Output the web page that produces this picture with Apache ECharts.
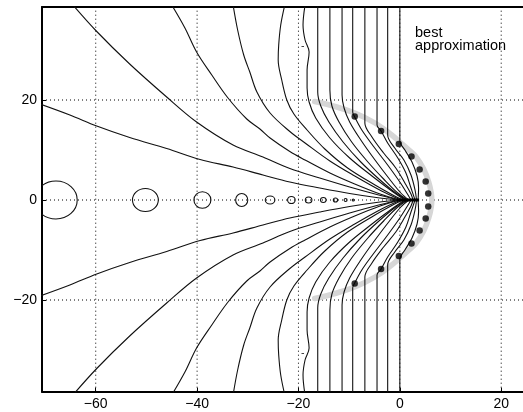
<!DOCTYPE html>
<html>
<head>
<meta charset="utf-8">
<script src="https://cdn.jsdelivr.net/npm/echarts@6/dist/echarts.min.js"></script>
<style>html,body{margin:0;padding:0;background:#fff;}#chart{width:523px;height:412px;}</style>
</head>
<body>
<div id="chart"></div>
<script>
// ---- data ----
const xTicks = [-60, -40, -20, 0, 20];
const yTicks = [-20, 0, 20];
const xRange = [-70.6, 24.3];
const yRange = [-38.34, 38.6];

// upper halves of contour lines (lower half is the mirror image)
const c1 = [[-71,19.2],[-65.1,17.0],[-59.8,14.8],[-53.3,12.5],[-46.0,10.3],[-39.4,8.1],[-32.9,6.6],[-27.0,5.0],[-21.7,3.6],[-15.8,2.4],[-9.9,1.3],[-4.3,0.45],[-0.4,0]];
const c2 = [[-64.5,39],[-59.8,33.7],[-53.3,27.2],[-46.0,20.6],[-40.1,15.6],[-32.9,11.0],[-27.0,8.6],[-21.7,6.3],[-15.8,4.4],[-9.9,2.6],[-4.9,1.2],[-0.2,0]];
const c3 = [[-45.0,39],[-42.4,34.4],[-40.1,29.6],[-37.1,25.0],[-33.9,20.4],[-30.2,16.2],[-27.6,14.2],[-25.6,12.4],[-21.7,9.7],[-18.7,8.0],[-13.8,5.4],[-8.9,3.2],[-3.9,1.2],[0,0]];
const c4 = [[-32.9,39],[-32.0,34.0],[-30.8,29.0],[-29.6,25.6],[-28.2,21.6],[-25.6,17.4],[-21.7,13.7],[-18.7,11.4],[-13.8,7.8],[-8.9,4.8],[-3.6,1.8],[0.2,0]];
const c5 = [[-22.7,39],[-23.5,35.0],[-23.9,31.0],[-24.0,28.0],[-23.3,24.0],[-22.3,20.0],[-20.9,17.2],[-18.3,14.0],[-14.8,10.2],[-10.3,6.4],[-4.9,3.0],[-1.4,1.0],[0.6,0]];
const c6 = [[-18.7,39],[-19.1,35.0],[-18.7,32.0],[-17.9,29.6],[-18.3,26.0],[-18.3,22.4],[-17.9,19.6],[-16.6,16.4],[-13.8,12.4],[-9.9,8.4],[-5.5,4.8],[-1.6,1.8],[1.0,0]];
const c7 = [[-16.2,39],[-16.2,28.0],[-16.2,21.6],[-15.6,18.8],[-14.0,15.6],[-11.2,11.6],[-7.7,7.6],[-3.9,4.0],[-0.8,1.4],[1.4,0]];
const c8 = [[-13.8,39],[-13.8,22.0],[-13.4,18.8],[-12.0,15.6],[-9.5,11.6],[-6.3,7.6],[-3.2,4.2],[-0.4,1.4],[1.6,0]];
const c9 = [[-11.4,39],[-11.4,21.0],[-11.0,18.4],[-9.9,15.6],[-7.7,12.0],[-4.9,8.0],[-2.2,4.4],[0.2,1.4],[1.8,0]];
const c10 = [[-9.3,39],[-9.3,17.6],[-8.9,16.6],[-7.5,14.0],[-5.1,10.6],[-2.4,7.0],[0,3.6],[1.5,1.2],[2.2,0]];
const c11 = [[-6.9,39],[-6.9,15.4],[-5.5,12.6],[-3.2,9.4],[-0.8,6.4],[1.0,3.4],[2.2,1.2],[2.6,0]];
const c12 = [[-4.5,39],[-4.5,15.0],[-3.7,13.8],[-2.4,11.4],[-0.4,8.4],[1.2,5.4],[2.2,2.4],[3.0,0]];
const c13 = [[-2.4,39],[-2.4,13.0],[-1.0,10.4],[0.8,8.0],[2.2,5.0],[3.0,2.0],[3.3,0]];
const c14 = [[0,39],[0,11.8],[1.0,10.0],[2.4,7.6],[3.4,4.8],[3.7,2.4],[3.6,0]];
const contourFragment = [[-19.4,30.7],[-18.9,30.7]];

// small closed contours along the negative real axis: centre x, half-width, half-height
const circleX  = [-67.85, -50.2, -38.95, -31.2, -25.6, -21.4, -18.0, -15.1, -12.7, -10.7, -9.2];
const circleRx = [4.2, 2.55, 1.68, 1.2, 0.95, 0.75, 0.65, 0.55, 0.42, 0.3, 0.2];
const circleRy = [3.8, 2.3, 1.66, 1.3, 0.8, 0.7, 0.6, 0.5, 0.4, 0.3, 0.2];

// poles (upper half)
const polesUpper = [[-8.9,16.7],[-3.7,13.8],[-0.2,11.2],[2.3,8.7],[3.9,6.1],[5.1,3.7],[5.6,1.3]];

// grey asymptotic curve (upper half)
const grayUpper = [[-16.8,19.7],[-12.8,18.7],[-8.9,17.4],[-4.9,15.4],[-1.6,13.0],[0,11.6],[1.8,10.0],[3.2,8.6],[4.7,6.2],[5.7,3.6],[6.2,1.4],[6.3,0]];

// branch segment on the real axis
const branchSeg = [[-0.6,0],[3.8,0]];

// ---- build ----
const mirror = pts => pts.map(p => [p[0], -p[1]]);
const contours = [c1,c2,c3,c4,c5,c6,c7,c8,c9,c10,c11,c12,c13,c14];
const FONT = 'Liberation Sans, Arial, Helvetica, sans-serif';
const fmt = v => String(v).replace('-', '\u2212');

const series = [];
// dotted grid lines
xTicks.forEach(t => series.push({
  type:'line', data:[[t, yRange[0]],[t, yRange[1]]], symbol:'none', silent:true, z:1,
  lineStyle:{color:'#000', width:1, type:[1,3]}
}));
yTicks.forEach(t => series.push({
  type:'line', data:[[xRange[0], t],[xRange[1], t]], symbol:'none', silent:true, z:1,
  lineStyle:{color:'#000', width:1, type:[1,3]}
}));
// grey curve
series.push({
  type:'line', data: mirror(grayUpper).concat(grayUpper.slice().reverse().slice(1)),
  symbol:'none', smooth:0.4, silent:true, z:2,
  lineStyle:{color:'#d6d6d6', width:5.5, cap:'round'}
});
// contours
contours.forEach(c => {
  [c, mirror(c)].forEach(d => series.push({
    type:'line', data:d, symbol:'none', smooth:0.35, silent:true, z:3,
    lineStyle:{color:'#111', width:1.1}
  }));
});
[contourFragment, mirror(contourFragment)].forEach(d => series.push({
  type:'line', data:d, symbol:'none', silent:true, z:3, lineStyle:{color:'#444', width:1}
}));
// small closed contours
series.push({
  type:'custom', z:3, silent:true, clip:true,
  data: circleX.map((x,i) => [x, 0, circleRx[i], circleRy[i]]),
  renderItem: function(params, api){
    const c = api.coord([api.value(0), api.value(1)]);
    const s = api.size([api.value(2), api.value(3)]);
    const cs = params.coordSys;
    return {
      type:'ellipse',
      shape:{cx:c[0], cy:c[1], rx:s[0], ry:s[1]},
      style:{fill:'none', stroke:'#111', lineWidth:1.1},
      clipPath:{type:'rect', shape:{x:cs.x, y:cs.y, width:cs.width, height:cs.height}}
    };
  }
});
// branch segment
series.push({
  type:'line', data:branchSeg, symbol:'none', silent:true, z:4,
  lineStyle:{color:'#000', width:3}
});
// poles
series.push({
  type:'scatter', data: polesUpper.concat(mirror(polesUpper)), symbol:'circle', symbolSize:6.5,
  itemStyle:{color:'#000'}, silent:true, z:5
});

const chart = echarts.init(document.getElementById('chart'), null, {renderer:'canvas'});
chart.setOption({
  animation:false,
  backgroundColor:'#fff',
  grid:{left:42, right:0, top:7, bottom:20.3, containLabel:false},
  xAxis:[{
    type:'value', min:xRange[0], max:xRange[1], position:'bottom',
    axisLine:{show:true, onZero:false, lineStyle:{color:'#000', width:2}},
    axisTick:{show:true, inside:true, length:4, customValues:xTicks, lineStyle:{color:'#000'}},
    axisLabel:{customValues:xTicks, formatter:fmt, color:'#000', fontSize:14, fontFamily:FONT, margin:5},
    splitLine:{show:false}
  },{
    type:'value', min:xRange[0], max:xRange[1], position:'top',
    axisLine:{show:true, onZero:false, lineStyle:{color:'#000', width:2}},
    axisTick:{show:false}, axisLabel:{show:false}, splitLine:{show:false}
  }],
  yAxis:{
    type:'value', min:yRange[0], max:yRange[1], position:'left',
    axisLine:{show:true, onZero:false, lineStyle:{color:'#000', width:2}},
    axisTick:{show:true, inside:true, length:4, customValues:yTicks, lineStyle:{color:'#000'}},
    axisLabel:{customValues:yTicks, formatter:fmt, color:'#000', fontSize:14, fontFamily:FONT, margin:5},
    splitLine:{show:false}
  },
  graphic:[{
    type:'text', left:415, top:25, silent:true,
    style:{text:'best\napproximation', font:'14.5px ' + FONT, fill:'#000', lineHeight:13}
  }],
  series: series
});
</script>
</body>
</html>
